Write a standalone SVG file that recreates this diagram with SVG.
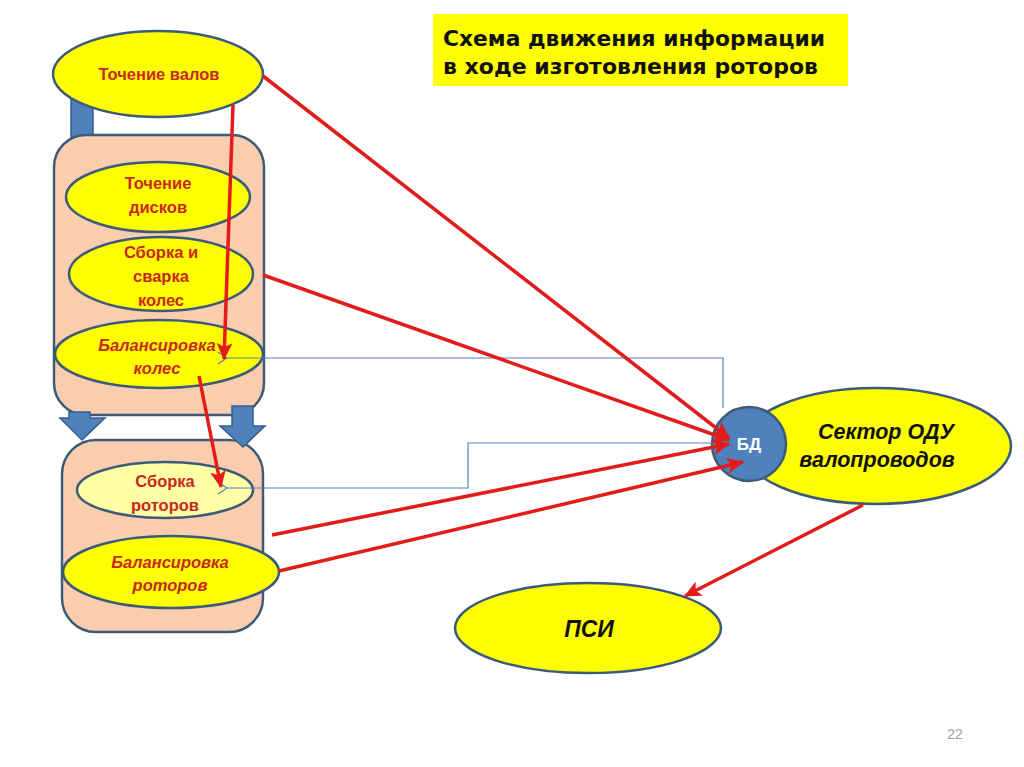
<svg xmlns="http://www.w3.org/2000/svg" width="1024" height="767" viewBox="0 0 1024 767">
<style>
.ell{fill:#FFFF00;stroke:#3D5B78;stroke-width:2.5}
.box{fill:#F9CDAE;stroke:#3D5B78;stroke-width:2.5}
.barrow{fill:#4F81BD;stroke:#385D8A;stroke-width:1.5}
.lbl{font-family:"Liberation Sans",Arial,sans-serif;font-weight:bold;font-size:16.5px;fill:#C8281E;text-anchor:middle}
.it{font-style:italic}
.blk{font-family:"Liberation Sans",Arial,sans-serif;font-weight:bold;font-style:italic;fill:#111;text-anchor:middle}
.ttl{font-family:"DejaVu Sans","Liberation Sans",sans-serif;font-weight:bold;font-size:21px;fill:#111}
.red{stroke:#E31B1B;stroke-width:3.5;fill:none;marker-end:url(#ra)}
.blue{stroke:#4F81BD;stroke-width:1.2;fill:none;marker-end:url(#ba)}
</style>
<defs>
<marker id="ra" markerUnits="userSpaceOnUse" markerWidth="18" markerHeight="16" refX="16" refY="8" orient="auto">
<path d="M0,0 L17,8 L0,16 L4,8 z" fill="#E31B1B"/>
</marker>
<marker id="ba" markerUnits="userSpaceOnUse" markerWidth="12" markerHeight="14" refX="1" refY="7" orient="auto">
<path d="M10,1 L1,7 L10,13" fill="none" stroke="#4F81BD" stroke-width="1.2"/>
</marker>
</defs>
<rect width="1024" height="767" fill="#FFFFFF"/>

<g id="title">
<rect x="433" y="14" width="415" height="72" fill="#FFFF00"/>
<text class="ttl" x="443" y="46" textLength="382" lengthAdjust="spacingAndGlyphs">Схема движения информации</text>
<text class="ttl" x="443" y="74" textLength="375" lengthAdjust="spacingAndGlyphs">в ходе изготовления роторов</text>
</g>

<g id="shaft-top">
<rect class="barrow" x="71" y="95" width="22" height="45"/>
</g>

<g id="node-tochenie-valov">
<ellipse class="ell" cx="158" cy="74" rx="105" ry="43"/>
<text class="lbl" x="159" y="80">Точение валов</text>
</g>

<g id="container-1">
<rect class="box" x="54" y="135" width="210" height="280" rx="32" ry="32"/>
</g>

<g id="node-tochenie-diskov">
<ellipse class="ell" cx="158" cy="197" rx="92" ry="35"/>
<text class="lbl" x="158" y="189">Точение</text>
<text class="lbl" x="158" y="213">дисков</text>
</g>

<g id="node-sborka-svarka">
<ellipse class="ell" cx="161" cy="274" rx="92" ry="37"/>
<text class="lbl" x="161" y="258">Сборка и</text>
<text class="lbl" x="161" y="282">сварка</text>
<text class="lbl" x="161" y="306">колес</text>
</g>

<g id="node-balans-koles">
<ellipse class="ell" cx="159" cy="354" rx="104" ry="34"/>
<text class="lbl it" x="157" y="351">Балансировка</text>
<text class="lbl it" x="157" y="374">колес</text>
</g>

<g id="container-2">
<rect class="box" x="62" y="440" width="201" height="192" rx="34" ry="34"/>
</g>

<g id="down-arrows">
<path class="barrow" d="M69,412 L90,412 L90,418 L105,418 L82,440 L60,418 L69,418 z"/>
<path class="barrow" d="M232,406 L253,406 L253,426 L265,426 L243,447 L220,426 L232,426 z"/>
</g>

<g id="node-sborka-rotorov">
<ellipse cx="165" cy="490" rx="88" ry="28" fill="#FFFFA6" stroke="#3D5B78" stroke-width="2.5"/>
<text class="lbl" x="165" y="487">Сборка</text>
<text class="lbl" x="165" y="511">роторов</text>
</g>

<g id="node-balans-rotorov">
<ellipse class="ell" cx="171" cy="572" rx="108" ry="36"/>
<text class="lbl it" x="170" y="568">Балансировка</text>
<text class="lbl it" x="170" y="591">роторов</text>
</g>

<g id="node-sektor">
<ellipse class="ell" cx="876" cy="446" rx="135" ry="58"/>
<text class="blk" x="886" y="439" font-size="21.5">Сектор ОДУ</text>
<text class="blk" x="877" y="467" font-size="21.5">валопроводов</text>
</g>

<g id="node-bd">
<circle cx="749" cy="444" r="37" fill="#4F81BD" stroke="#3D5B78" stroke-width="2.5"/>
<text x="749" y="450" font-family="Liberation Sans,Arial,sans-serif" font-weight="bold" font-size="17" fill="#FFFFFF" text-anchor="middle">БД</text>
</g>

<g id="node-psi">
<ellipse class="ell" cx="588" cy="628" rx="133" ry="45"/>
<text class="blk" x="589" y="637" font-size="23">ПСИ</text>
</g>

<g id="connectors">
<polyline class="blue" points="723,408 723,358 227,358"/>
<polyline class="blue" points="713,443 468,443 468,488 227,488"/>
<line class="red" x1="263" y1="76" x2="729" y2="438"/>
<line class="red" x1="263" y1="275" x2="729" y2="440"/>
<line class="red" x1="272" y1="535" x2="729" y2="444"/>
<line class="red" x1="279" y1="571" x2="743" y2="462"/>
<line class="red" x1="233" y1="105" x2="224" y2="359"/>
<line class="red" x1="199" y1="376" x2="221" y2="487"/>
<line class="red" x1="863" y1="505" x2="685" y2="596"/>
</g>

<text x="955" y="739" font-family="Liberation Sans,Arial,sans-serif" font-size="14" fill="#A0A0A0" text-anchor="middle">22</text>
</svg>
